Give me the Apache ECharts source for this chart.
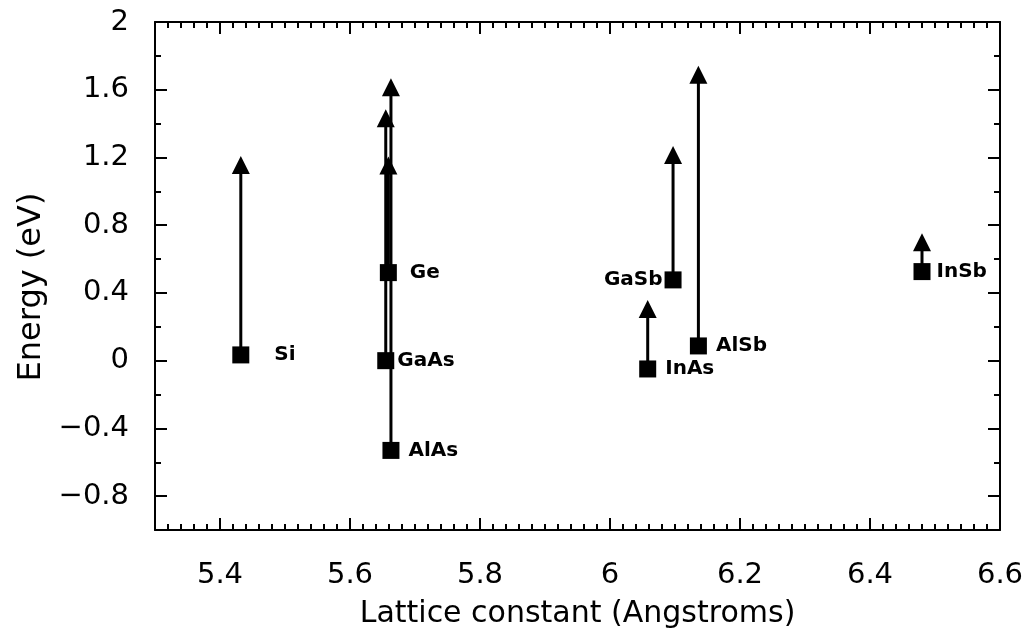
<!DOCTYPE html>
<html><head><meta charset="utf-8">
<script src="https://cdn.jsdelivr.net/npm/echarts@6/dist/echarts.min.js"></script>
<style>html,body{margin:0;padding:0;background:#fff}#c{width:1027px;height:643px}</style>
</head><body><div id="c"></div>
<script>
// ---- data ----
const materials = ['Si', 'Ge', 'GaAs', 'AlAs', 'GaSb', 'InAs', 'AlSb', 'InSb'];
const latticeConstants = [5.432, 5.659, 5.655, 5.663, 6.097, 6.058, 6.136, 6.480];
const bandEdges = [0.034, 0.52, 0.0, -0.53, 0.477, -0.049, 0.087, 0.526];
const arrowTops = [1.209, 1.205, 1.485, 1.668, 1.268, 0.359, 1.741, 0.752];
const xTickLabels = [5.4, 5.6, 5.8, 6.0, 6.2, 6.4, 6.6];
const yTickLabels = [-0.8, -0.4, 0, 0.4, 0.8, 1.2, 1.6, 2];

// ---- layout / style ----
const labelLayout = {
  Si: { position: 'right', distance: 25 },
  Ge: { position: 'right', distance: 13 },
  GaAs: { position: 'right', distance: 3 },
  AlAs: { position: 'right', distance: 9 },
  GaSb: { position: 'left', distance: 2 },
  InAs: { position: 'right', distance: 9 },
  AlSb: { position: 'right', distance: 9 },
  InSb: { position: 'right', distance: 6 }
};
const FONT = 'DejaVu Sans';
const fmt = v => String(parseFloat(Number(v).toFixed(2))).replace('-', '\u2212');
const blk = '#000';

function majorAxis(extra) {
  return Object.assign({
    type: 'value',
    axisLine: { show: true, onZero: false, lineStyle: { color: blk, width: 2 } },
    axisTick: { show: true, inside: true, length: 12, lineStyle: { color: blk, width: 2 } },
    splitLine: { show: false }
  }, extra);
}
function minorAxis(extra) {
  return Object.assign({
    type: 'value',
    axisLine: { show: false, onZero: false },
    axisTick: { show: true, inside: true, length: 6, lineStyle: { color: blk, width: 2 } },
    axisLabel: { show: false },
    splitLine: { show: false }
  }, extra);
}

const xMin = 5.3, xMax = 6.6, yMin = -1, yMax = 2;

const option = {
  animation: false,
  backgroundColor: '#fff',
  grid: { left: 155, right: 27, top: 22, bottom: 113, containLabel: false },
  xAxis: [
    majorAxis({
      position: 'bottom', min: xMin, max: xMax,
      axisTick: { show: true, inside: true, length: 12, customValues: xTickLabels, lineStyle: { color: blk, width: 2 } },
      axisLabel: { customValues: xTickLabels, formatter: fmt, color: blk, fontSize: 29, fontFamily: FONT, margin: 31 },
      name: 'Lattice constant (Angstroms)', nameLocation: 'middle', nameGap: 69,
      nameTextStyle: { color: blk, fontSize: 30, fontFamily: FONT }
    }),
    minorAxis({ position: 'bottom', min: xMin, max: xMax, interval: 0.02 }),
    majorAxis({
      position: 'top', min: xMin, max: xMax,
      axisTick: { show: true, inside: true, length: 12, customValues: xTickLabels, lineStyle: { color: blk, width: 2 } },
      axisLabel: { show: false }
    }),
    minorAxis({ position: 'top', min: xMin, max: xMax, interval: 0.02 })
  ],
  yAxis: [
    majorAxis({
      position: 'left', min: yMin, max: yMax,
      axisTick: { show: true, inside: true, length: 12, customValues: yTickLabels, lineStyle: { color: blk, width: 2 } },
      axisLabel: { customValues: yTickLabels, formatter: fmt, color: blk, fontSize: 29, fontFamily: FONT, margin: 26 },
      name: 'Energy (eV)', nameLocation: 'middle', nameGap: 104,
      nameTextStyle: { color: blk, fontSize: 32, fontFamily: FONT, padding: [0, 22, 0, 0] }
    }),
    minorAxis({ position: 'left', min: yMin, max: yMax, interval: 0.2 }),
    majorAxis({
      position: 'right', min: yMin, max: yMax,
      axisTick: { show: true, inside: true, length: 12, customValues: yTickLabels, lineStyle: { color: blk, width: 2 } },
      axisLabel: { show: false }
    }),
    minorAxis({ position: 'right', min: yMin, max: yMax, interval: 0.2 })
  ],
  series: [
    {
      type: 'custom',
      xAxisIndex: 0, yAxisIndex: 0,
      renderItem: function (params, api) {
        const x = api.value(0), y0 = api.value(1), y1 = api.value(2);
        const p0 = api.coord([x, y0]);
        const p1 = api.coord([x, y1]);
        const hh = 18, hw = 9;
        return {
          type: 'group',
          children: [
            { type: 'line', shape: { x1: p0[0], y1: p0[1], x2: p1[0], y2: p1[1] + hh - 1 },
              style: { stroke: blk, lineWidth: 3 } },
            { type: 'polygon', shape: { points: [[p1[0], p1[1]], [p1[0] - hw, p1[1] + hh], [p1[0] + hw, p1[1] + hh]] },
              style: { fill: blk } }
          ]
        };
      },
      data: materials.map((m, i) => [latticeConstants[i], bandEdges[i], arrowTops[i]]),
      z: 2
    },
    {
      type: 'scatter',
      xAxisIndex: 0, yAxisIndex: 0,
      symbol: 'rect', symbolSize: 17,
      itemStyle: { color: blk, opacity: 1 },
      z: 3,
      data: materials.map((m, i) => ({
        name: m,
        value: [latticeConstants[i], bandEdges[i]],
        label: {
          show: true, formatter: m,
          position: labelLayout[m].position, distance: labelLayout[m].distance,
          color: blk, fontSize: 20, fontWeight: 'bold', fontFamily: FONT
        }
      }))
    }
  ]
};

const chart = echarts.init(document.getElementById('c'), null, { renderer: 'canvas' });
chart.setOption(option);
</script>
</body></html>
